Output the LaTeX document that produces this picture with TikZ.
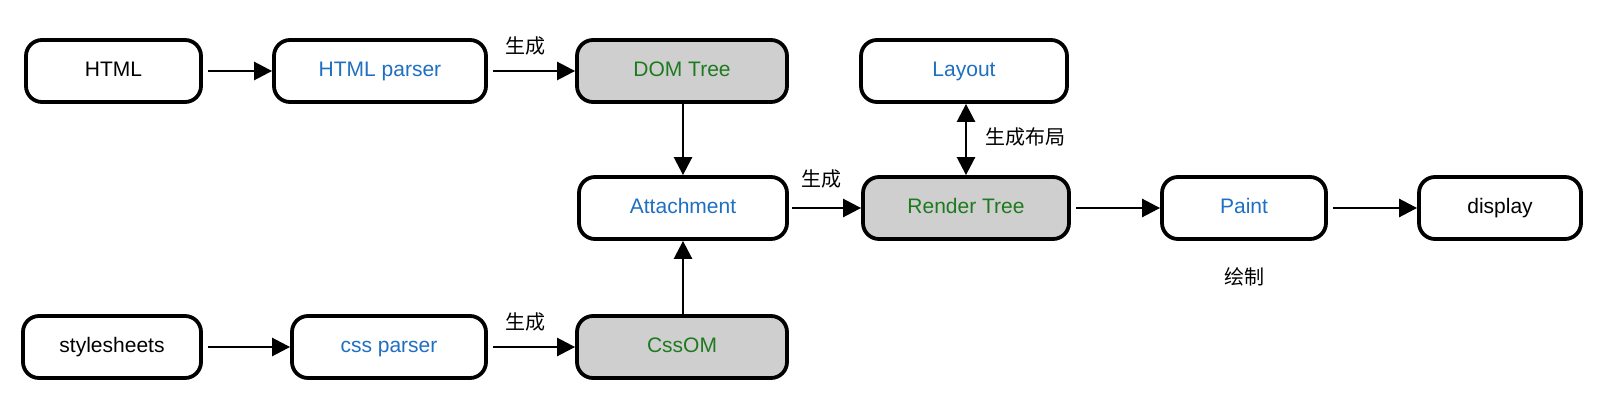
\documentclass[tikz,border=0pt]{standalone}
\usepackage{fontspec}
\setmainfont{Liberation Sans}
\newfontfamily\cjk{Noto Sans CJK SC}
\usetikzlibrary{arrows.meta}
\definecolor{tblue}{HTML}{1F6FC2}
\definecolor{tgreen}{HTML}{1E7A1E}
\definecolor{tgray}{HTML}{CFCFCF}
\tikzset{
  box/.style={draw=black, line width=3.8pt, rounded corners=16pt, minimum height=62pt, inner sep=0pt,
    font=\fontsize{21}{24}\selectfont, fill=white, text height=15pt, text depth=4pt},
  grey/.style={fill=tgray},
  arr/.style={line width=2.6pt, -{Triangle[length=18pt,width=18pt]}},
  darr/.style={line width=2.6pt, {Triangle[length=18pt,width=18pt]}-{Triangle[length=18pt,width=18pt]}},
  lbl/.style={font=\cjk\fontsize{20}{23}\selectfont, inner sep=0pt}
}
\begin{document}
\begin{tikzpicture}[x=1pt,y=-1pt]
\useasboundingbox (0,0) rectangle (1620,412);
\node[box, minimum width=175pt] (html) at (113.5,71) {HTML};
\node[box, minimum width=212pt, text=tblue] (hp) at (380,71) {HTML parser};
\node[box, grey, minimum width=210pt, text=tgreen] (dom) at (682,71) {DOM Tree};
\node[box, minimum width=206pt, text=tblue] (layout) at (964,71) {Layout};
\node[box, minimum width=208pt, text=tblue] (att) at (683,208) {Attachment};
\node[box, grey, minimum width=206pt, text=tgreen] (rt) at (966,208) {Render Tree};
\node[box, minimum width=164pt, text=tblue] (paint) at (1244,208) {Paint};
\node[box, minimum width=162pt] (disp) at (1500,208) {display};
\node[box, minimum width=178pt] (ss) at (112,347) {stylesheets};
\node[box, minimum width=194pt, text=tblue] (cp) at (389,347) {css parser};
\node[box, grey, minimum width=210pt, text=tgreen] (css) at (682,347) {CssOM};

\draw[arr, shorten <=5pt] (html) -- (hp);
\draw[arr, shorten <=5pt] (hp) -- (dom);
\draw[arr] (dom.south -| att.north) -- (att);
\draw[arr] (css.north -| att.south) -- (att);
\draw[arr, shorten <=3pt] (att) -- (rt);
\draw[darr] (layout.south -| rt.north) -- (rt.north);
\draw[arr, shorten <=5pt] (rt) -- (paint);
\draw[arr, shorten <=5pt] (paint) -- (disp);
\draw[arr, shorten <=5pt] (ss) -- (cp);
\draw[arr, shorten <=5pt] (cp) -- (css);

\node[lbl] (l1) at (525,46) {生成};
\node[lbl] (l2) at (525,322) {生成};
\node[lbl] (l3) at (821,179) {生成};
\node[lbl] (l4) at (1025,137) {生成布局};
\node[lbl] (l5) at (1244,277) {绘制};
\end{tikzpicture}
\end{document}
